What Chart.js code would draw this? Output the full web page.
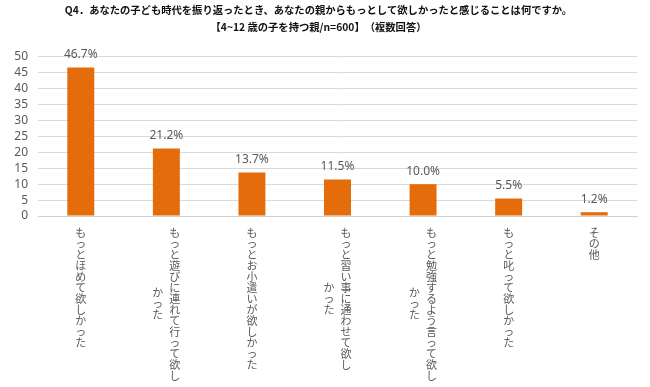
<!DOCTYPE html>
<html><head><meta charset="utf-8">
<script src="https://cdn.jsdelivr.net/npm/chart.js@4.4.0/dist/chart.umd.min.js"></script>
<style>html,body{margin:0;padding:0;background:#fff}#wrap{width:650px;height:387px}</style>
</head><body><div id="wrap"><canvas id="c" width="650" height="387"></canvas></div>
<script>
const titleLines = [
  "Q4．あなたの子ども時代を振り返ったとき、あなたの親からもっとして欲しかったと感じることは何ですか。",
  "【4~12 歳の子を持つ親/n=600】　（複数回答）"
];
const categories = [
  ["もっとほめて欲しかった"],
  ["もっと遊びに連れて行って欲し", "かった"],
  ["もっとお小遣いが欲しかった"],
  ["もっと習い事に通わせて欲し", "かった"],
  ["もっと勉強するよう言って欲し", "かった"],
  ["もっと叱って欲しかった"],
  ["その他"]
];
const values = [46.7, 21.2, 13.7, 11.5, 10.0, 5.5, 1.2];
const yTicks = [0, 5, 10, 15, 20, 25, 30, 35, 40, 45, 50];

const TEXT = '#595959';
const CJK = '"Noto Sans CJK JP", "Noto Sans", sans-serif';

const valueLabels = {
  id: 'valueLabels',
  afterDatasetsDraw(chart) {
    const ctx = chart.ctx;
    const meta = chart.getDatasetMeta(0);
    ctx.save();
    ctx.font = '12px "Noto Sans", sans-serif';
    ctx.fillStyle = TEXT;
    ctx.textAlign = 'center';
    ctx.textBaseline = 'middle';
    meta.data.forEach((el, i) => {
      ctx.fillText(values[i].toFixed(1) + '%', el.x, el.y - 13);
    });
    ctx.restore();
  }
};

const verticalLabels = {
  id: 'verticalLabels',
  afterDraw(chart) {
    const ctx = chart.ctx;
    const xs = chart.scales.x;
    const top = chart.chartArea.bottom + 11;
    const adv = 11, gap = 17;
    ctx.save();
    ctx.font = '11px ' + CJK;
    ctx.fillStyle = TEXT;
    ctx.textAlign = 'center';
    ctx.textBaseline = 'top';
    categories.forEach((lines, i) => {
      const cx = xs.getPixelForValue(i);
      const n = lines.length;
      const longest = Math.max(...lines.map(l => [...l].length));
      lines.forEach((line, j) => {
        const chars = [...line];
        const colX = cx + ((n - 1) / 2 - j) * gap;
        const startY = top + (longest - chars.length) * adv / 2;
        chars.forEach((ch, k) => {
          ctx.fillText(ch, colX, startY + k * adv);
        });
      });
    });
    ctx.restore();
  }
};

new Chart(document.getElementById('c'), {
  type: 'bar',
  data: {
    labels: categories.map(c => c.join('')),
    datasets: [{
      data: values,
      backgroundColor: '#E46C0A',
      borderWidth: 0,
      categoryPercentage: 1,
      barPercentage: 0.315
    }]
  },
  options: {
    responsive: false,
    animation: false,
    devicePixelRatio: 1,
    layout: { padding: { left: 0, right: 13, top: 0, bottom: 0 } },
    plugins: {
      legend: { display: false },
      tooltip: { enabled: false },
      title: {
        display: true,
        text: titleLines,
        color: '#111',
        font: { family: CJK, size: 10.3, weight: 'bold', lineHeight: 1.65 },
        padding: { top: 2, bottom: 21 }
      }
    },
    scales: {
      x: {
        grid: { display: false },
        border: { display: true, color: '#d0d0d0', width: 1 },
        ticks: { display: false },
        afterFit(s) { s.height = 171; }
      },
      y: {
        min: 0, max: 50,
        afterBuildTicks(s) { s.ticks = yTicks.map(v => ({ value: v })); },
        grid: { color: '#d9d9d9', drawTicks: false },
        border: { display: false },
        ticks: { color: TEXT, font: { family: '"Noto Sans", sans-serif', size: 12 }, padding: 10, autoSkip: false },
        afterFit(s) { s.width = 38; }
      }
    }
  },
  plugins: [valueLabels, verticalLabels]
});
</script>
</body></html>
